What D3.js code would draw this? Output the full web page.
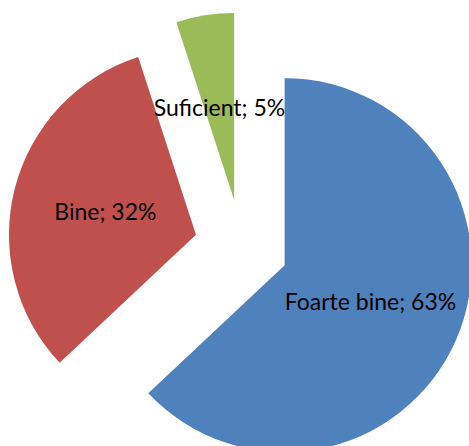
<!DOCTYPE html>
<html>
<head>
<meta charset="utf-8">
<script src="https://cdn.jsdelivr.net/npm/d3@7"></script>
<style>
 body { margin: 0; background: #fff; }
</style>
</head>
<body>
<div id="chart"></div>
<script>
 // basic dimensions
 var width = 469;
 var height = 446;
 var cx = 241.5, cy = 246.5;
 var radius = 187;
 var explode = 47;

 // data
 var categories = ["Foarte bine", "Bine", "Suficient"];
 var values = [63, 32, 5];
 var colours = ["#4F81BD", "#C0504D", "#9BBB59"];

 var data = categories.map(function(c, i) {
     return { name: c, value: values[i], colour: colours[i] };
 });

 var pie = d3.pie()
     .sort(null)
     .value(function(d) { return d.value; });

 var arc = d3.arc()
     .innerRadius(0)
     .outerRadius(radius);

 var svg = d3.select("#chart")
     .append("svg")
     .attr("width", width)
     .attr("height", height)
     .append("g")
     .attr("transform", "translate(" + cx + "," + cy + ")");

 // each slice gets pushed out along its middle angle
 var slices = svg.selectAll(".slice")
     .data(pie(data))
     .enter()
     .append("g")
     .attr("class", "slice")
     .attr("transform", function(d) {
         var a = (d.startAngle + d.endAngle) / 2;
         return "translate(" + (Math.sin(a) * explode) + "," + (-Math.cos(a) * explode) + ")";
     });

 slices.append("path")
     .attr("d", arc)
     .attr("fill", function(d) { return d.data.colour; });

 slices.append("text")
     .attr("transform", function(d) {
         return "translate(" + arc.centroid(d) + ")";
     })
     .attr("text-anchor", "middle")
     .attr("dy", "0.35em")
     .style("font", "23px Lato, 'Open Sans', sans-serif")
     .style("fill", "#000")
     .text(function(d) { return d.data.name + "; " + d.data.value + "%"; });
</script>
</body>
</html>
